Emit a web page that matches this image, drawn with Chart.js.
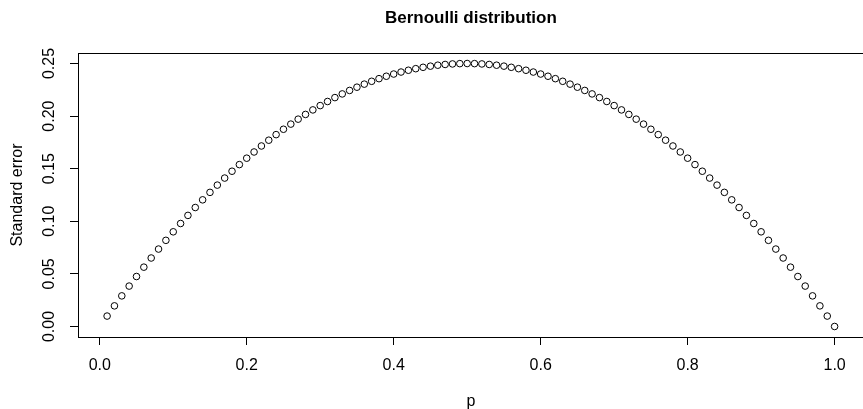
<!DOCTYPE html>
<html>
<head>
<meta charset="utf-8">
<title>Bernoulli distribution</title>
<script src="https://cdn.jsdelivr.net/npm/chart.js@4.4.1/dist/chart.umd.min.js"></script>
<style>
    html, body { margin: 0; padding: 0; background: #fff; overflow: hidden; }
    #wrap { position: relative; width: 868px; height: 409px; }
</style>
</head>
<body>
<div id="wrap"><canvas id="chart"></canvas></div>
<script>
// values
const pValues = [
    0.01, 0.02, 0.03, 0.04, 0.05, 0.06, 0.07, 0.08, 0.09, 0.10,
    0.11, 0.12, 0.13, 0.14, 0.15, 0.16, 0.17, 0.18, 0.19, 0.20,
    0.21, 0.22, 0.23, 0.24, 0.25, 0.26, 0.27, 0.28, 0.29, 0.30,
    0.31, 0.32, 0.33, 0.34, 0.35, 0.36, 0.37, 0.38, 0.39, 0.40,
    0.41, 0.42, 0.43, 0.44, 0.45, 0.46, 0.47, 0.48, 0.49, 0.50,
    0.51, 0.52, 0.53, 0.54, 0.55, 0.56, 0.57, 0.58, 0.59, 0.60,
    0.61, 0.62, 0.63, 0.64, 0.65, 0.66, 0.67, 0.68, 0.69, 0.70,
    0.71, 0.72, 0.73, 0.74, 0.75, 0.76, 0.77, 0.78, 0.79, 0.80,
    0.81, 0.82, 0.83, 0.84, 0.85, 0.86, 0.87, 0.88, 0.89, 0.90,
    0.91, 0.92, 0.93, 0.94, 0.95, 0.96, 0.97, 0.98, 0.99, 1.00
];
const seValues = [
    0.0099, 0.0196, 0.0291, 0.0384, 0.0475, 0.0564, 0.0651, 0.0736, 0.0819, 0.0900,
    0.0979, 0.1056, 0.1131, 0.1204, 0.1275, 0.1344, 0.1411, 0.1476, 0.1539, 0.1600,
    0.1659, 0.1716, 0.1771, 0.1824, 0.1875, 0.1924, 0.1971, 0.2016, 0.2059, 0.2100,
    0.2139, 0.2176, 0.2211, 0.2244, 0.2275, 0.2304, 0.2331, 0.2356, 0.2379, 0.2400,
    0.2419, 0.2436, 0.2451, 0.2464, 0.2475, 0.2484, 0.2491, 0.2496, 0.2499, 0.2500,
    0.2499, 0.2496, 0.2491, 0.2484, 0.2475, 0.2464, 0.2451, 0.2436, 0.2419, 0.2400,
    0.2379, 0.2356, 0.2331, 0.2304, 0.2275, 0.2244, 0.2211, 0.2176, 0.2139, 0.2100,
    0.2059, 0.2016, 0.1971, 0.1924, 0.1875, 0.1824, 0.1771, 0.1716, 0.1659, 0.1600,
    0.1539, 0.1476, 0.1411, 0.1344, 0.1275, 0.1204, 0.1131, 0.1056, 0.0979, 0.0900,
    0.0819, 0.0736, 0.0651, 0.0564, 0.0475, 0.0384, 0.0291, 0.0196, 0.0099, 0.0000
];
const xTicks = [0, 0.2, 0.4, 0.6, 0.8, 1.0];
const xTickLabels = ['0.0', '0.2', '0.4', '0.6', '0.8', '1.0'];
const yTicks = [0, 0.05, 0.10, 0.15, 0.20, 0.25];
const yTickLabels = ['0.00', '0.05', '0.10', '0.15', '0.20', '0.25'];
const chartTitle = 'Bernoulli distribution';
const xTitle = 'p';
const yTitle = 'Standard error';

const FONT = '"Liberation Sans", Arial, Helvetica, sans-serif';

// R style frame round the plot area + bold main title
const frameAndTitle = {
    id: 'frameAndTitle',
    afterDraw(chart) {
        const { ctx, chartArea } = chart;
        ctx.save();
        ctx.strokeStyle = '#000';
        ctx.lineWidth = 1;
        ctx.strokeRect(Math.round(chartArea.left) + 0.5, Math.round(chartArea.top) + 0.5,
            Math.round(chartArea.right - chartArea.left), Math.round(chartArea.bottom - chartArea.top));
        ctx.fillStyle = '#000';
        ctx.font = 'bold 17px ' + FONT;
        ctx.textAlign = 'center';
        ctx.textBaseline = 'alphabetic';
        ctx.fillText(chartTitle, (chartArea.left + chartArea.right) / 2, 23);
        ctx.restore();
    }
};

const points = pValues.map((p, i) => ({ x: p, y: seValues[i] }));

new Chart(document.getElementById('chart'), {
    type: 'scatter',
    data: {
        datasets: [{
            data: points,
            pointStyle: 'circle',
            pointRadius: 3.3,
            pointHoverRadius: 3.3,
            borderWidth: 1,
            borderColor: '#000',
            backgroundColor: 'rgba(0,0,0,0)'
        }]
    },
    options: {
        responsive: true,
        maintainAspectRatio: false,
        animation: false,
        events: [],
        layout: { padding: { top: 53, right: 1, left: 0, bottom: 0 } },
        plugins: { legend: { display: false }, tooltip: { enabled: false }, title: { display: false } },
        scales: {
            x: {
                type: 'linear',
                min: -0.0296,
                max: 1.0396,
                afterBuildTicks: (scale) => { scale.ticks = xTicks.map(v => ({ value: v })); },
                afterFit: (scale) => { scale.height = 72; },
                border: { display: false },
                grid: { drawOnChartArea: false, drawTicks: true, tickLength: 8, color: '#000', lineWidth: 1 },
                ticks: {
                    autoSkip: false,
                    maxRotation: 0,
                    padding: 11,
                    color: '#000',
                    font: { family: FONT, size: 16 },
                    callback: (v, i) => xTickLabels[i]
                },
                title: {
                    display: true,
                    text: xTitle,
                    color: '#000',
                    font: { family: FONT, size: 16 },
                    padding: { top: 0, bottom: -2 }
                }
            },
            y: {
                type: 'linear',
                min: -0.01,
                max: 0.26,
                afterBuildTicks: (scale) => { scale.ticks = yTicks.map(v => ({ value: v })); },
                afterFit: (scale) => { scale.width = 78; },
                border: { display: false },
                grid: { drawOnChartArea: false, drawTicks: true, tickLength: 8, color: '#000', lineWidth: 1 },
                ticks: {
                    autoSkip: false,
                    minRotation: 90,
                    maxRotation: 90,
                    crossAlign: 'center',
                    padding: 5,
                    color: '#000',
                    font: { family: FONT, size: 16 },
                    callback: (v, i) => yTickLabels[i]
                },
                title: {
                    display: true,
                    text: yTitle,
                    color: '#000',
                    font: { family: FONT, size: 16 },
                    padding: { top: 8, bottom: 0 }
                }
            }
        }
    },
    plugins: [frameAndTitle]
});
</script>
</body>
</html>
